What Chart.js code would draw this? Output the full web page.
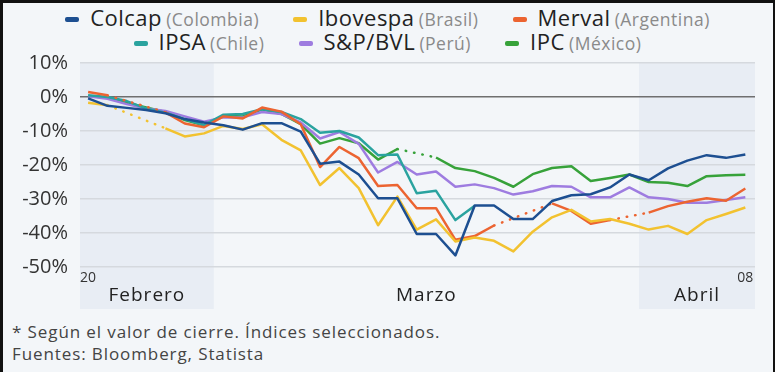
<!DOCTYPE html>
<html lang="es">
<head>
<meta charset="utf-8">
<script src="https://cdn.jsdelivr.net/npm/chart.js@4/dist/chart.umd.min.js"></script>
<style>
  html, body { margin: 0; padding: 0; }
  body { width: 775px; height: 372px; overflow: hidden; font-family: 'Open Sans', sans-serif; }
  .frame {
    position: relative; width: 775px; height: 372px; box-sizing: border-box;
    background: #f3f6f9; border-top: 3px solid #111; border-left: 3px solid #111; border-right: 2px solid #111;
  }
  #legend { position: absolute; top: 2px; left: -3px; width: 775px; text-align: center; }
  #legend .row { line-height: 24px; height: 24px; white-space: nowrap; }
  #legend .item { display: inline-block; margin: 0 15px; }
  #legend .mark { display: inline-block; width: 14px; height: 5px; border-radius: 2px; vertical-align: middle; margin-right: 11px; position: relative; top: -2px; }
  #legend .name { font-size: 22px; letter-spacing: 0.5px; color: #222; }
  #legend .sub { font-size: 17.5px; letter-spacing: 0.5px; color: #8a8a8a; }
  #chart { position: absolute; top: 36px; left: -3px; }
  .note { position: absolute; left: 9px; top: 318px; font-size: 17px; letter-spacing: 0.9px; line-height: 22px; color: #444; }
</style>
</head>
<body>
<div class="frame">
  <div id="legend"></div>
  <canvas id="chart" width="775" height="276"></canvas>
  <div class="note">* Según el valor de cierre. Índices seleccionados.<br>Fuentes: Bloomberg, Statista</div>
</div>
<script>
// dias de cotizacion (20 feb - 08 abr 2020)
const fechas = [
  '2020-02-20', '2020-02-21', '2020-02-24', '2020-02-25', '2020-02-26', '2020-02-27', '2020-02-28',
  '2020-03-02', '2020-03-03', '2020-03-04', '2020-03-05', '2020-03-06',
  '2020-03-09', '2020-03-10', '2020-03-11', '2020-03-12', '2020-03-13',
  '2020-03-16', '2020-03-17', '2020-03-18', '2020-03-19', '2020-03-20',
  '2020-03-23', '2020-03-24', '2020-03-25', '2020-03-26', '2020-03-27',
  '2020-03-30', '2020-03-31', '2020-04-01', '2020-04-02', '2020-04-03',
  '2020-04-06', '2020-04-07', '2020-04-08'
];
const meses = { '02': 'Febrero', '03': 'Marzo', '04': 'Abril' };
const yTicks = [10, 0, -10, -20, -30, -40, -50];

// variacion en % (null = sin cotizacion ese dia)
const colcap = [-0.4, -2.6, -3.2, -3.8, -4.8, -6.5, -7.5, -8.3, -9.6, -7.7, -7.7, -10.2, -19.6, -19.0, -22.8, -29.8, -29.8, -40.3, -40.3, -46.6, -31.9, -31.9, -35.9, -35.9, -30.6, -28.9, -28.6, -26.6, -22.8, -24.5, -21.0, -18.7, -17.1, -17.9, -16.9];
const ibovespa = [-1.7, -2.4, null, null, -9.2, -11.6, -10.7, -8.5, -9.4, -8.0, -12.6, -15.7, -25.9, -20.9, -26.8, -37.7, -29.3, -39.0, -36.0, -42.5, -41.3, -42.3, -45.4, -39.6, -35.4, -33.2, -36.6, -35.9, -37.3, -39.0, -37.9, -40.3, -36.2, -34.4, -32.5];
const merval = [1.5, 0.5, null, null, -4.5, -7.8, -8.9, -5.7, -6.3, -3.1, -4.3, -8.0, -20.6, -14.7, -18.0, -26.2, -25.9, -32.7, -32.7, -42.0, -40.9, -37.8, null, null, -31.3, -33.5, -37.3, -36.2, null, -34.0, -32.1, -30.8, -29.8, -30.5, -26.9];
const ipsa = [0.5, 0.0, -1.2, -3.4, -4.6, -6.5, -8.3, -5.2, -5.0, -3.6, -4.4, -6.5, -10.5, -10.0, -11.9, -17.1, -16.9, -28.3, -27.6, -36.2, -32.0, null, null, null, null, null, null, null, null, null, null, null, null, null, null];
const bvl = [0.2, -0.5, -2.1, -3.4, -4.1, -5.7, -7.3, -6.0, -6.0, -4.4, -5.0, -7.5, -12.2, -10.3, -13.8, -22.2, -19.1, -22.8, -21.9, -26.4, -25.7, -26.8, -28.7, -27.7, -26.2, -26.4, -29.5, -29.5, -26.6, -29.5, -30.0, -31.1, -31.1, -30.3, -29.5];
const ipc = [0.3, -0.2, -1.7, -3.1, -4.4, -6.8, -8.3, -5.5, -5.7, -3.6, -5.0, -8.0, -13.7, -12.1, -13.6, -18.4, -15.3, null, -17.8, -20.9, -21.8, -23.8, -26.4, -22.7, -20.9, -20.4, -24.7, -23.8, -22.8, -25.0, -25.2, -26.2, -23.3, -23.0, -22.9];

const nombres = ['Colcap', 'Ibovespa', 'Merval', 'IPSA', 'S&P/BVL', 'IPC'];
const paises = ['Colombia', 'Brasil', 'Argentina', 'Chile', 'Perú', 'México'];
const colores = ['#1d4f91', '#f2c230', '#ec6431', '#2aa39f', '#9e7ce0', '#37a23a'];
const valores = [colcap, ibovespa, merval, ipsa, bvl, ipc];

// legend (two rows, like the original)
const legend = document.getElementById('legend');
[[0, 1, 2], [3, 4, 5]].forEach(row => {
  legend.innerHTML += '<div class="row">' + row.map(i => `
    <span class="item"><span class="mark" style="background:${colores[i]}"></span><span class="name">${nombres[i]}</span> <span class="sub">(${paises[i]})</span></span>
  `).join('') + '</div>';
});

// month bands: shade odd months, label centred in each
const bandas = [];
fechas.forEach((f, i) => {
  const m = meses[f.slice(5, 7)];
  const last = bandas[bandas.length - 1];
  if (!last || last.label !== m) bandas.push({ label: m, from: i, to: i });
  else last.to = i;
});

const monthBands = {
  id: 'monthBands',
  beforeDraw(chart) {
    const { ctx, chartArea: a, scales: { x } } = chart;
    ctx.save();
    bandas.forEach((b, k) => {
      const left = k === 0 ? a.left : x.getPixelForValue(b.from - 0.5);
      const right = k === bandas.length - 1 ? a.right : x.getPixelForValue(b.to + 0.5);
      if (k % 2 === 0) {
        ctx.fillStyle = '#e8edf4';
        ctx.fillRect(left, a.top, right - left, a.bottom - a.top + 42);
      }
      ctx.fillStyle = '#222';
      ctx.font = "19px 'Open Sans'";
      ctx.letterSpacing = '1px';
      ctx.textAlign = 'center';
      ctx.textBaseline = 'middle';
      ctx.fillText(b.label, (left + right) / 2, a.bottom + 29);
    });
    ctx.restore();
  }
};

const gap = v => c => (c.p0.skip || c.p1.skip ? v : undefined);

Chart.defaults.font.family = "'Open Sans', sans-serif";

new Chart(document.getElementById('chart'), {
  type: 'line',
  data: {
    datasets: nombres.map((n, i) => ({
      label: n,
      data: valores[i].map((v, j) => ({ x: j, y: v })),
      borderColor: colores[i],
      borderWidth: 2.5,
      pointRadius: 0,
      tension: 0,
      spanGaps: true,
      borderJoinStyle: 'round',
      segment: { borderDash: gap([0.5, 8]), borderCapStyle: gap('round') }
    }))
  },
  options: {
    responsive: false,
    animation: false,
    devicePixelRatio: 1,
    layout: { padding: { top: 0, right: 20, left: 0, bottom: 0 } },
    plugins: { legend: { display: false }, tooltip: { enabled: false } },
    scales: {
      x: {
        type: 'linear',
        min: -0.42,
        max: fechas.length - 0.5,
        grid: { display: false, drawTicks: false },
        border: { display: false },
        afterBuildTicks: s => { s.ticks = [{ value: 0 }, { value: fechas.length - 1 }]; },
        afterFit: s => { s.height = 48; },
        ticks: {
          callback: v => fechas[v].slice(8),
          color: '#333',
          font: { size: 14 },
          padding: 3,
          maxRotation: 0,
          autoSkip: false
        }
      },
      y: {
        min: yTicks[yTicks.length - 1],
        max: yTicks[0],
        afterBuildTicks: s => { s.ticks = yTicks.map(v => ({ value: v })); },
        afterFit: s => { s.width = 80; },
        border: { display: false },
        grid: {
          drawTicks: false,
          lineWidth: 1.5,
          color: c => (c.tick.value === 0 ? '#6f6f6f' : '#d5d9de')
        },
        ticks: {
          callback: v => v + '%',
          color: '#333',
          font: { size: 20 },
          padding: 12
        }
      }
    }
  },
  plugins: [monthBands]
});
</script>
</body>
</html>
